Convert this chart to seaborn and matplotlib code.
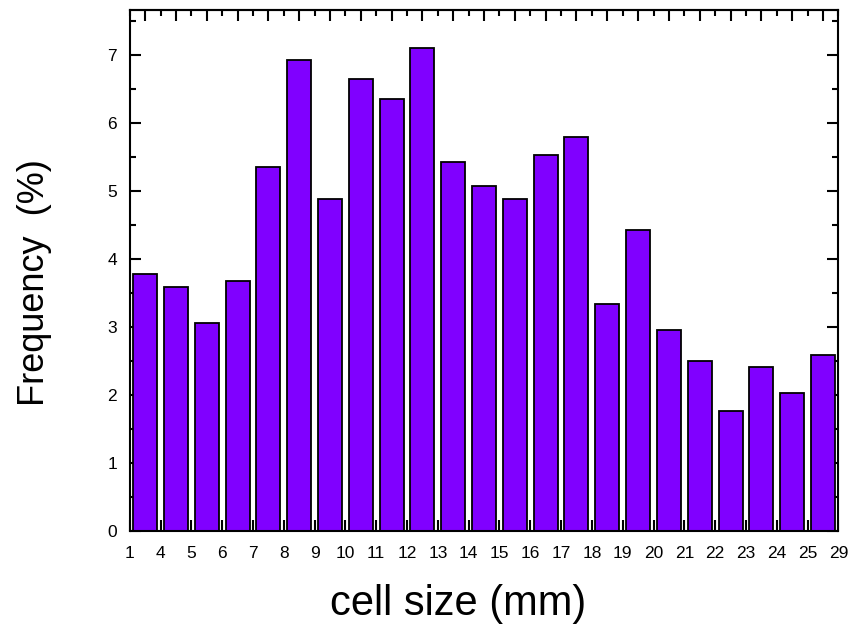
import numpy as np
import pandas as pd
import matplotlib
matplotlib.use("Agg")
import matplotlib.pyplot as plt
import seaborn as sns
from matplotlib.ticker import MultipleLocator, FixedLocator, NullFormatter

# ---- data ----
edge_labels = ["1", "4", "5", "6", "7", "8", "9", "10", "11", "12", "13", "14",
               "15", "16", "17", "18", "19", "20", "21", "22", "23", "24", "25", "29"]
bins = [f"bin{i}" for i in range(23)]
frequency = [3.78, 3.59, 3.05, 3.68, 5.35, 6.92, 4.88, 6.64, 6.36, 7.10, 5.43, 5.07,
             4.88, 5.53, 5.80, 3.33, 4.43, 2.96, 2.50, 1.76, 2.41, 2.03, 2.59]

df = pd.DataFrame({"bin": bins, "freq": frequency})

sns.set_theme(style="white")
plt.rcParams["font.family"] = ["Liberation Sans", "DejaVu Sans"]
plt.rcParams.update({"text.color": "black", "axes.labelcolor": "black",
                     "xtick.color": "black", "ytick.color": "black"})

fig = plt.figure(figsize=(8.59, 6.34), dpi=100)
ax = fig.add_axes([0.151, 0.163, 0.825, 0.822])

sns.barplot(data=df, x="bin", y="freq", ax=ax, color="#8000FF", saturation=1,
            width=0.78, edgecolor="black", linewidth=1.3)

ax.set_xlim(-0.5, 22.5)
ax.set_ylim(0, 7.67)

n = len(bins)
ax.xaxis.set_major_locator(FixedLocator(np.arange(n + 1) - 0.5))
ax.set_xticklabels(edge_labels, fontsize=12.5)
ax.xaxis.set_minor_locator(FixedLocator(np.arange(n)))
ax.yaxis.set_major_locator(MultipleLocator(1))
ax.yaxis.set_minor_locator(MultipleLocator(0.5))
ax.tick_params(axis="y", labelsize=12.5, pad=9)
ax.tick_params(axis="x", pad=11)

ax.tick_params(which="major", direction="in", length=8, width=1.5, color="black",
               left=True, right=True, bottom=True, top=False)
ax.tick_params(which="minor", direction="in", length=4, width=1.5, color="black",
               left=True, right=True, bottom=True, top=False)

sec = ax.secondary_xaxis("top")
sec.xaxis.set_major_locator(FixedLocator(np.arange(n)))
sec.xaxis.set_minor_locator(FixedLocator(np.arange(n + 1) - 0.5))
sec.xaxis.set_major_formatter(NullFormatter())
sec.tick_params(which="major", direction="in", length=8, width=1.5, color="black")
sec.tick_params(which="minor", direction="in", length=4, width=1.5, color="black")
sec.spines["top"].set_linewidth(1.5)

for s in ax.spines.values():
    s.set_visible(True)
    s.set_color("black")
    s.set_linewidth(1.5)

ax.set_xlabel("cell size (mm)", fontsize=30)
ax.xaxis.set_label_coords(0.463, -0.103)
ax.set_ylabel("Frequency  (%)", fontsize=26)
ax.yaxis.set_label_coords(-0.109, 0.477)

fig.savefig("out.png", dpi=100)
